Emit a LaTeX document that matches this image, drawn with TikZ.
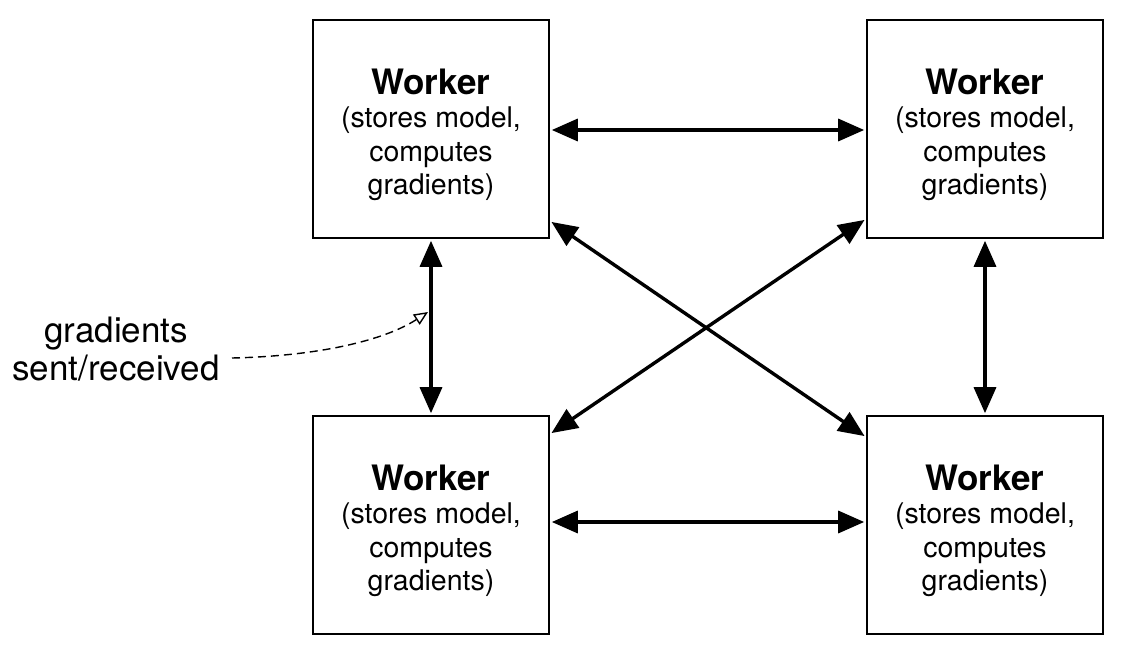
\documentclass[tikz,border=0pt]{standalone}
\usepackage{fontspec}
\setmainfont{TeX Gyre Heros}
\usetikzlibrary{arrows.meta}
\begin{document}
\begin{tikzpicture}[x=1pt,y=-1pt,
  worker/.style={draw,line width=1.6pt,minimum width=236pt,minimum height=218pt,inner sep=0pt,align=center,font=\fontsize{28.5}{33.5}\selectfont},
  link/.style={line width=3.4pt,{Triangle[length=26pt,width=22pt]}-{Triangle[length=26pt,width=22pt]},shorten <=2pt,shorten >=2pt},
  note/.style={font=\fontsize{35}{38}\selectfont,align=center}]
\useasboundingbox (0,0) rectangle (1122,646);
\newcommand{\wtext}{{\fontsize{35}{36}\selectfont\bfseries\rule{0pt}{37pt}Worker}\\(stores model,\\computes\\gradients)}
\node[worker] (tl) at (431,129) {\wtext};
\node[worker] (tr) at (985,129) {\wtext};
\node[worker] (bl) at (431,525) {\wtext};
\node[worker] (br) at (985,525) {\wtext};
\draw[link] (tl.east |- 0,130) -- (tr.west |- 0,130);
\draw[link] (bl.east |- 0,522) -- (br.west |- 0,522);
\draw[link] (tl.south) -- (bl.north);
\draw[link] (tr.south) -- (br.north);
\draw[link] ([yshift=18pt]tl.south east) -- ([yshift=-22pt]br.north west);
\draw[link] ([yshift=20pt]tr.south west) -- ([yshift=-19pt]bl.north east);
\node[note] (lbl) at (116,349) {gradients\\sent/received};
\coordinate (tip) at (428,312);
\draw[line width=1.4pt,dash pattern=on 8pt off 5pt,-{Triangle[open,length=14pt,width=12pt,line width=1.4pt]}] (232,358) .. controls (320,356) and (385,340) .. (tip);
\end{tikzpicture}
\end{document}
